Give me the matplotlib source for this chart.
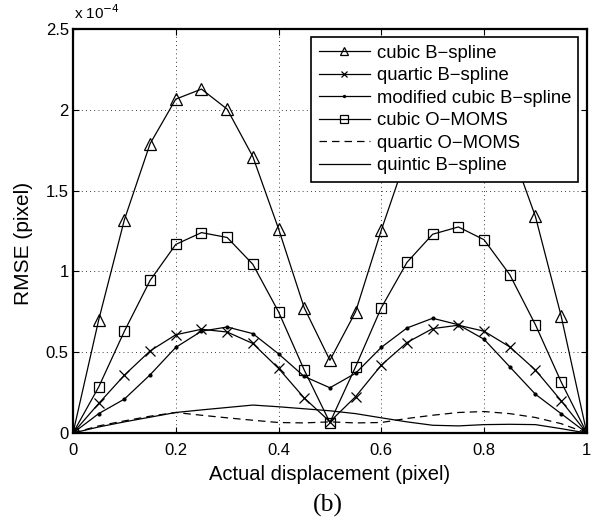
import matplotlib
matplotlib.use('Agg')
import matplotlib.pyplot as plt

plt.rcParams['font.family'] = ['Liberation Sans', 'DejaVu Sans']

# Desplazamiento (pixel)
x = [0.0, 0.05, 0.1, 0.15, 0.2, 0.25, 0.3, 0.35, 0.4, 0.45, 0.5,
     0.55, 0.6, 0.65, 0.7, 0.75, 0.8, 0.85, 0.9, 0.95, 1.0]

# RMSE en unidades de 1e-4 pixel
cubic_b = [0, 0.70, 1.32, 1.79, 2.066, 2.128, 2.004, 1.71, 1.264, 0.775, 0.45,
           0.75, 1.255, 1.72, 2.02, 2.12, 2.05, 1.78, 1.34, 0.725, 0]
quartic_b = [0, 0.183, 0.358, 0.508, 0.608, 0.642, 0.625, 0.554, 0.40, 0.217, 0.07,
             0.225, 0.42, 0.56, 0.646, 0.667, 0.63, 0.533, 0.39, 0.20, 0]
mod_cubic_b = [0, 0.12, 0.21, 0.36, 0.53, 0.63, 0.656, 0.615, 0.49, 0.35, 0.28,
               0.37, 0.53, 0.65, 0.71, 0.67, 0.58, 0.41, 0.24, 0.12, 0]
cubic_omoms = [0, 0.285, 0.63, 0.944, 1.167, 1.24, 1.21, 1.044, 0.75, 0.39, 0.065,
               0.41, 0.775, 1.056, 1.23, 1.275, 1.196, 0.98, 0.67, 0.317, 0]
quartic_omoms = [0, 0.044, 0.075, 0.104, 0.127, 0.11, 0.094, 0.079, 0.065, 0.0625, 0.069,
                 0.0625, 0.065, 0.09, 0.11, 0.127, 0.133, 0.12, 0.096, 0.058, 0]
quintic_b = [0, 0.0375, 0.069, 0.098, 0.127, 0.143, 0.158, 0.173, 0.1625, 0.15, 0.1375,
             0.12, 0.094, 0.069, 0.048, 0.044, 0.052, 0.054, 0.052, 0.027, 0]

etiquetas = ['cubic B\u2212spline', 'quartic B\u2212spline', 'modified cubic B\u2212spline',
             'cubic O\u2212MOMS', 'quartic O\u2212MOMS', 'quintic B\u2212spline']

fig = plt.figure(figsize=(6.0, 5.25), dpi=100)
ax = fig.add_axes([0.1217, 0.1752, 0.8563, 0.7696])

lw = 0.9
ax.plot(x, cubic_b, '-', color='k', lw=lw, marker='^', ms=9, mfc='none', mew=0.9, label=etiquetas[0])
ax.plot(x, quartic_b, '-', color='k', lw=lw, marker='x', ms=6.5, mew=0.9, label=etiquetas[1])
ax.plot(x, mod_cubic_b, '-', color='k', lw=lw, marker='.', ms=4, label=etiquetas[2])
ax.plot(x, cubic_omoms, '-', color='k', lw=lw, marker='s', ms=7.5, mfc='none', mew=0.9, label=etiquetas[3])
ax.plot(x, quartic_omoms, '--', color='k', lw=lw, dashes=(6, 4), label=etiquetas[4])
ax.plot(x, quintic_b, '-', color='k', lw=lw, label=etiquetas[5])

ax.set_xlim(0, 1)
ax.set_ylim(0, 2.5)
ax.set_xticks([0, 0.2, 0.4, 0.6, 0.8, 1])
ax.set_xticklabels(['0', '0.2', '0.4', '0.6', '0.8', '1'])
ax.set_yticks([0, 0.5, 1, 1.5, 2, 2.5])
ax.set_yticklabels(['0', '0.5', '1', '1.5', '2', '2.5'])
ax.tick_params(direction='in', top=True, right=True, labelsize=12, length=4, width=0.8)
ax.tick_params(axis='x', pad=7)
ax.tick_params(axis='y', pad=3)
ax.grid(True, linestyle=(0, (1, 4)), color='k', lw=0.6)
for s in ax.spines.values():
    s.set_linewidth(1.6)

ax.text(0.002, 1.018, 'x 10$^{-4}$', transform=ax.transAxes, fontsize=11, ha='left', va='bottom')
ax.set_xlabel('Actual displacement (pixel)', fontsize=14.5, labelpad=5)
ax.set_ylabel('RMSE (pixel)', fontsize=15)
ax.yaxis.set_label_coords(-0.078, 0.47)

leg = ax.legend(loc='upper right', fontsize=13.3, frameon=True, fancybox=False,
                edgecolor='k', framealpha=1, handlelength=2.8, handletextpad=0.35,
                labelspacing=0.3, borderpad=0.4, borderaxespad=0.45, markerscale=0.7)
leg.get_frame().set_linewidth(1.2)

fig.text(0.5467, 0.038, '(b)', fontsize=18.5, ha='center', va='center', family='Liberation Serif')

plt.savefig('out.png', dpi=100)
